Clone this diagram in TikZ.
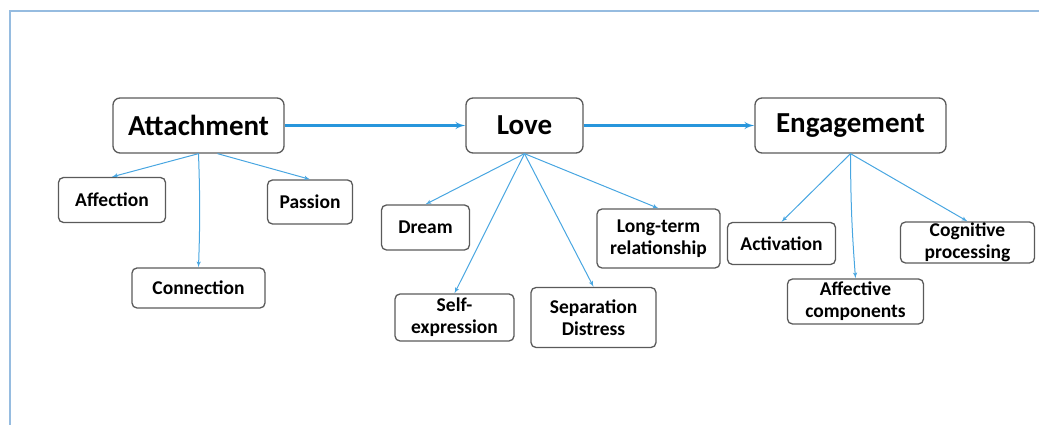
\documentclass[tikz,border=0pt]{standalone}
\usepackage{fontspec}
\setmainfont{Carlito}
\usepackage{xcolor}
\usepackage{tikz}
\usetikzlibrary{positioning}
\usetikzlibrary{arrows}
\definecolor{linkblue}{RGB}{40,150,220}
\definecolor{frameblue}{RGB}{150,188,224}
\definecolor{boxgray}{RGB}{90,90,90}
\tikzset{edge/.style = {->,> = latex'}}

\begin{document}
\begin{tikzpicture}[x=1pt,y=1pt,node distance=326pt,
  main node/.style={draw=boxgray,rounded corners=7pt,line width=1.3pt,font=\fontsize{29}{31}\selectfont\bfseries,minimum height=55pt,inner sep=0pt},
  leaf node/.style={draw=boxgray,rounded corners=5pt,line width=1.3pt,font=\fontsize{19.5}{22}\selectfont\bfseries,align=center,inner sep=0pt,on grid},
  main link/.style={linkblue,line width=2.4pt},
  leaf link/.style={linkblue!85,line width=1pt}]
  \useasboundingbox (0,0) rectangle (1039,425);
  \draw[frameblue,line width=1.2pt] (10,0) -- (10,414) -- (1039,414);

  \node[main node,minimum width=171pt] (att) at (198.5,299.5) {Attachment};
  \node[main node,minimum width=117pt] (love) [right of=att] {Love};
  \node[main node,minimum width=191pt] (eng) [right of=love] {Engagement};

  \node[leaf node,minimum width=107pt,minimum height=45pt] (affection) [below left=74.5pt and 86.5pt of att] {Affection};
  \node[leaf node,minimum width=85pt,minimum height=44pt] (passion) [below right=76.5pt and 111.5pt of att] {Passion};
  \node[leaf node,minimum width=133pt,minimum height=40pt] (connection) [below=162.5pt of att] {Connection};

  \node[leaf node,minimum width=88pt,minimum height=45pt] (dream) [below left=102pt and 99pt of love] {Dream};
  \node[leaf node,minimum width=119pt,minimum height=47pt] (selfexp) [below left=192pt and 70pt of love] {Self-\\expression};
  \node[leaf node,minimum width=125pt,minimum height=60pt] (separation) [below right=192pt and 69pt of love] {Separation\\Distress};
  \node[leaf node,minimum width=123pt,minimum height=59pt] (longterm) [below right=113pt and 134pt of love] {Long-term\\relationship};

  \node[leaf node,minimum width=108pt,minimum height=42pt] (activation) [below left=118pt and 69pt of eng] {Activation};
  \node[leaf node,minimum width=136pt,minimum height=45pt] (affective) [below right=176pt and 5pt of eng] {Affective\\components};
  \node[leaf node,minimum width=134pt,minimum height=41pt] (cognitive) [below right=117pt and 117pt of eng] {Cognitive\\processing};

  \path[edge] (att) edge[main link] (love);
  \path[edge] (love) edge[main link] (eng);

  \path[edge] (att.south) edge[leaf link] (affection.north);
  \path[edge] (att.south) edge[leaf link, bend left=2] (connection.north);
  \path[edge] ([xshift=19pt]att.south) edge[leaf link] (passion.north);

  \path[edge] (love.south) edge[leaf link] (dream.north);
  \path[edge] (love.south) edge[leaf link] (selfexp.north);
  \path[edge] (love.south) edge[leaf link] (separation.north);
  \path[edge] (love.south) edge[leaf link] (longterm.north);

  \path[edge] (eng.south) edge[leaf link] (activation.north);
  \path[edge] (eng.south) edge[leaf link, bend right=2] (affective.north);
  \path[edge] (eng.south) edge[leaf link] (cognitive.north);
\end{tikzpicture}
\end{document}
